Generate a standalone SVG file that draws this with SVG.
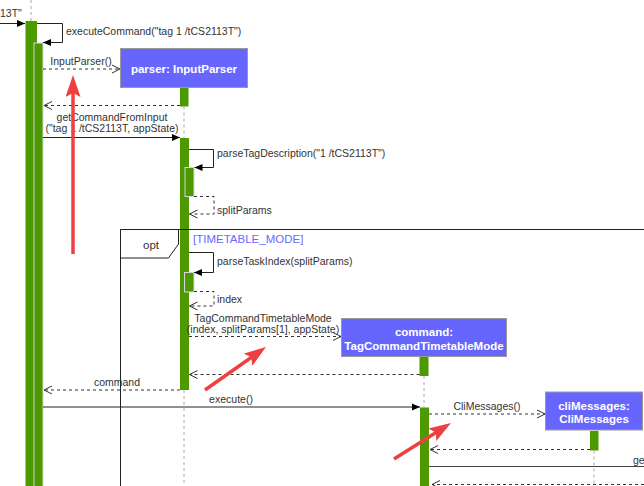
<svg xmlns="http://www.w3.org/2000/svg" width="644" height="486" viewBox="0 0 644 486">
<style>
.t{font-family:"Liberation Sans",Arial,sans-serif;font-size:10.5px;fill:#333}
.m{text-anchor:middle}
.f{font-size:11.5px}
.b{font-family:"Liberation Sans",Arial,sans-serif;font-size:11.5px;font-weight:bold;fill:#fff;text-anchor:middle}
.box{fill:#6666FF;stroke:#9a9a9a;stroke-width:1}
.bar{fill:#4D9900}
.nbar{fill:#4D9900;stroke:#d6d6d6;stroke-width:1}
.life{stroke:#aaa;stroke-width:1;stroke-dasharray:3 3;fill:none}
.call{stroke:#222;stroke-width:1;fill:none;marker-end:url(#fill)}
.ret{stroke:#333;stroke-width:1;fill:none;stroke-dasharray:3 3;marker-end:url(#open)}
.async{stroke:#333;stroke-width:1;fill:none;stroke-dasharray:3 3;marker-end:url(#open)}
.frame{stroke:#222;stroke-width:1;fill:none}
.red{stroke:#EE4040;stroke-width:3.5;fill:none;marker-end:url(#redhead)}
</style>
<defs>
<marker id="fill" markerUnits="userSpaceOnUse" markerWidth="10" markerHeight="10" refX="8" refY="4" orient="auto" viewBox="0 0 10 10">
<path d="M0,0.5 L8,4 L0,7.5 z" fill="#000"/>
</marker>
<marker id="open" markerUnits="userSpaceOnUse" markerWidth="12" markerHeight="12" refX="8.5" refY="5" orient="auto" viewBox="0 0 12 12">
<path d="M0.5,1 L8.5,5 L0.5,9" fill="none" stroke="#333" stroke-width="1"/>
</marker>
<marker id="redhead" markerUnits="userSpaceOnUse" markerWidth="24" markerHeight="16" refX="10" refY="7.5" orient="auto" viewBox="0 0 24 16">
<path d="M0,0 L22,7.5 L0,15 L4,7.5 z" fill="#EE4040"/>
</marker>
</defs>

<g id="lifeline-main">
<line class="life" x1="31" y1="0" x2="31" y2="21"/>
<rect class="bar" x="25.5" y="21" width="11.5" height="470"/>
<rect class="nbar" x="34" y="43" width="9" height="450"/>
</g>

<g id="node-parser">
<rect class="box" x="120.5" y="48.5" width="127" height="39"/>
<text class="b" x="184" y="73.4">parser: InputParser</text>
<rect class="bar" x="180" y="88" width="8.5" height="18.5"/>
<line class="life" x1="184" y1="106.5" x2="184" y2="138"/>
<rect class="bar" x="180" y="138" width="9" height="252"/>
<line class="life" x1="184" y1="390" x2="184" y2="486"/>
<rect class="nbar" x="185" y="167.5" width="9" height="29"/>
<rect class="nbar" x="184.5" y="272.5" width="9.5" height="19.5"/>
</g>

<g id="node-command">
<rect class="box" x="341.5" y="318.5" width="165" height="38"/>
<text class="b" x="424" y="335.8">command:</text>
<text class="b" x="424" y="349.8">TagCommandTimetableMode</text>
<rect class="bar" x="419.5" y="357" width="9" height="19"/>
<line class="life" x1="424" y1="376" x2="424" y2="407.5"/>
<rect class="bar" x="420" y="407.5" width="9" height="80"/>
</g>

<g id="node-cli">
<rect class="box" x="545.5" y="392" width="97" height="38"/>
<text class="b" x="594" y="410">cliMessages:</text>
<text class="b" x="594" y="423.4">CliMessages</text>
<rect class="bar" x="590" y="431" width="8.5" height="19.5"/>
<line class="life" x1="594" y1="450.5" x2="594" y2="486"/>
</g>

<g id="frame-opt">
<path class="frame" d="M120.5,490 V229.5 H650"/>
<path class="frame" d="M120.5,229.5 H178.5 V244 L168.5,258 H120.5"/>
<text class="t m f" x="151" y="249">opt</text>
<text class="t f" x="193" y="242.5" style="fill:#6a6aff">[TIMETABLE_MODE]</text>
</g>

<g id="connectors">
<line class="call" x1="0" y1="23.5" x2="25" y2="23.5"/>
<text class="t" x="0" y="17">13T"</text>

<path class="call" d="M37,23.5 H62.5 V42.5 H43"/>
<text class="t" x="66" y="34.5">executeCommand("tag 1 /tCS2113T")</text>

<line class="async" x1="43" y1="69" x2="120" y2="69"/>
<text class="t m" x="81" y="64.8">InputParser()</text>

<line class="ret" x1="180" y1="105.5" x2="44" y2="105.5"/>

<line class="call" x1="43" y1="137.5" x2="180" y2="137.5"/>
<text class="t m" x="112" y="120.5">getCommandFromInput</text>
<text class="t m" x="112" y="131.5">("tag 1 /tCS2113T, appState)</text>

<path class="call" d="M189,149.5 H213.5 V167.5 H194.5"/>
<text class="t" x="217" y="156.8">parseTagDescription("1 /tCS2113T")</text>
<path class="ret" d="M194,196.5 H214 V214 H189.5"/>
<text class="t" x="217" y="213.8">splitParams</text>

<path class="call" d="M189,252.5 H213.5 V272.5 H194"/>
<text class="t" x="217" y="264.5">parseTaskIndex(splitParams)</text>
<path class="ret" d="M194,291.5 H214 V306 H189.5"/>
<text class="t" x="217" y="302.8">index</text>

<line class="async" x1="189" y1="336.5" x2="341" y2="336.5"/>
<text class="t m" x="263" y="321.5">TagCommandTimetableMode</text>
<text class="t m" x="263" y="332.8">(index, splitParams[1], appState)</text>

<line class="ret" x1="419.5" y1="374.5" x2="189.5" y2="374.5"/>

<line class="ret" x1="180" y1="390" x2="44" y2="390"/>
<text class="t m" x="117" y="386">command</text>

<line class="call" x1="43" y1="407" x2="420" y2="407"/>
<text class="t m" x="231" y="402.8">execute()</text>

<line class="async" x1="429" y1="414" x2="545" y2="414"/>
<text class="t m" x="487" y="409.8">CliMessages()</text>

<line class="ret" x1="590" y1="449.5" x2="430" y2="449.5"/>

<line x1="429" y1="466.5" x2="644" y2="466.5" stroke="#444" stroke-width="1"/>
<text class="t" x="633" y="463.8">ge</text>

<line class="ret" x1="650" y1="484.5" x2="432" y2="484.5"/>
</g>

<g id="annotations">
<line class="red" x1="73" y1="254" x2="73" y2="87"/>
<line class="red" x1="205" y1="390" x2="256.2" y2="353.9"/>
<line class="red" x1="394" y1="459" x2="440.8" y2="429.4"/>
</g>
</svg>
